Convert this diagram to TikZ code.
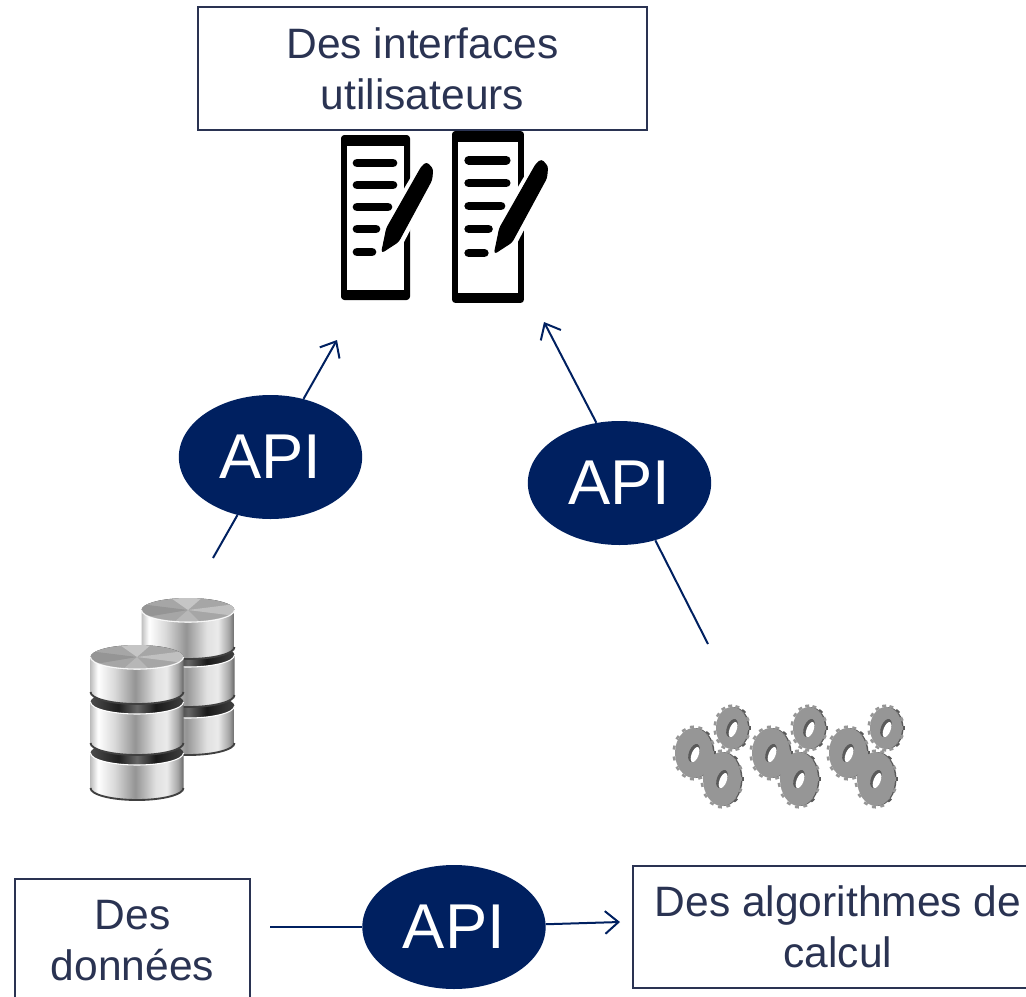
\documentclass[tikz,border=0pt]{standalone}
\usepackage{fontspec}
\setmainfont{Liberation Sans}
\usetikzlibrary{arrows.meta,shapes.geometric}
\definecolor{apiblue}{HTML}{002060}
\definecolor{textblue}{HTML}{2A3352}
\definecolor{gearface}{HTML}{969696}
\definecolor{geardark}{HTML}{5A5A5A}
\pgfdeclarehorizontalshading{metalbody}{100bp}{color(0bp)=(black!25); color(25bp)=(black!25); color(29bp)=(white); color(38bp)=(black!15); color(49bp)=(black!42); color(60bp)=(black!12); color(66bp)=(black!8); color(72bp)=(black!35); color(75bp)=(black!60); color(100bp)=(black!60)}
\pgfdeclarehorizontalshading{darklid}{100bp}{color(0bp)=(black!70); color(25bp)=(black!70); color(40bp)=(black!88); color(50bp)=(black!60); color(60bp)=(black!90); color(75bp)=(black!75); color(100bp)=(black!75)}
\tikzset{
  textbox/.style={draw=textblue, line width=1.1pt, text=textblue, align=center, inner sep=0pt, font=\fontsize{31.9}{38.3}\selectfont},
  apinode/.style={ellipse, fill=apiblue, text=white, minimum width=137.5pt, minimum height=93pt, inner sep=0pt, font=\fontsize{47.5}{50}\selectfont},
  link/.style={draw=apiblue, line width=1.5pt},
  linkarrow/.style={link, -{Straight Barb[length=10pt, width=17pt]}},
  pics/formicon/.style={code={
    \fill[black, rounded corners=2.5pt] (0,0) rectangle (69,165);
    \fill[white] (6,11) rectangle (63,155);
    \foreach \ypos/\xend in {28/52, 50/52, 72/47, 94/35, 117/31}
      \draw[black, line width=6.5pt, line cap=round] (16,\ypos) -- (\xend,\ypos);
    \draw[white, line join=round, line width=8pt] (44,117) -- (46,93) -- (82,32) -- (91,42) -- (57,107) -- cycle;
    \filldraw[black, line width=.8pt, line join=round, rounded corners=2pt] (40.7,117.5) -- (45.7,93.3) -- (80.7,31.7) -- (85.7,27.5) -- (91.7,34) -- (90.7,45) -- (57.3,106.7) -- cycle;
  }},
  pics/diskicon/.style={code={
    \shade[shading=darklid] (0,0) ellipse [x radius=46.5, y radius=12];
    \shade[shading=metalbody] (-46.5,0) -- (-46.5,#1) arc (180:0:46.5 and 12) -- (46.5,0) arc (0:180:46.5 and 12) -- cycle;
    \draw[white, line width=.8pt] (-46.5,0) arc (180:0:46.5 and 12);
    \draw[black!75, line width=1.4pt] (-46.5,#1) arc (180:0:46.5 and 12);
  }},
  pics/lidicon/.style={code={
    \fill[black!35] (0,0) ellipse [x radius=46.5, y radius=12];
    \begin{scope}
      \clip (0,0) ellipse [x radius=46.5, y radius=12];
      \fill[white, opacity=.35] (0,0) -- (-20,-14) -- (16,-14) -- cycle;
      \fill[white, opacity=.3] (0,0) -- (48,-6) -- (48,6) -- cycle;
      \fill[white, opacity=.2] (0,0) -- (-16,14) -- (14,14) -- cycle;
      \fill[black, opacity=.1] (0,0) -- (-48,-6) -- (-48,8) -- cycle;
    \end{scope}
    \draw[white, line width=.8pt, opacity=.8] (-46.5,0) arc (180:0:46.5 and 12);
  }},
  pics/gearicon/.style n args={2}{code={
    \fill[geardark] (1.5,0) ellipse [x radius=#1, y radius=#2];
    \fill[gearface] (0,0) ellipse [x radius=#1, y radius=#2];
    \foreach \ang in {0,24,...,336}
      \draw[gearface, line width=3pt] ({#1*cos(\ang)},{#2*sin(\ang)}) -- ({(#1+2.5)*cos(\ang)},{(#2+2.5)*sin(\ang)});
    \foreach \ang in {-48,0,48}
      \draw[geardark, line width=3pt] ({(#1+.5)*cos(\ang)},{(#2+.5)*sin(\ang)}) -- ({(#1+2.5)*cos(\ang)},{(#2+2.5)*sin(\ang)});
    \fill[geardark, rotate=-22] (0,0) ellipse [x radius=5, y radius=9.5];
    \fill[white, rotate=-22] (1.6,1) ellipse [x radius=3.5, y radius=8];
  }},
  pics/gearcluster/.style={code={
    \pic {gearicon={16}{21}};
    \pic at (-38,25) {gearicon={19}{25}};
    \pic at (-10,51) {gearicon={19}{27}};
  }}
}

\begin{document}
\begin{tikzpicture}[x=.75pt, y=-.75pt]
  \useasboundingbox (0,0) rectangle (1026,997);

  \node (ui) [textbox, minimum width=336.75pt, minimum height=92.25pt] at (422.5,68.5) {Des interfaces\\utilisateurs};
  \node (data) [textbox, minimum width=176.25pt, minimum height=93pt] at (132.5,941) {Des\\données};
  \node (algo) [textbox, minimum width=307.5pt, minimum height=91.5pt] at (838,927) {Des algorithmes de\\calcul};

  \node (apiA) [apinode] at (270.5,457) {API};
  \node (apiB) [apinode] at (619.5,483) {API};
  \node (apiC) [apinode] at (454,927) {API};

  % icons
  \pic (form1) at (341,135) {formicon};
  \pic (form2) [xscale=1.043, yscale=1.042] at (452,131) {formicon};

  \pic (back3) at (188,706) {diskicon={37}};
  \pic (back2) at (188,655) {diskicon={40}};
  \pic (back1) at (188,610) {diskicon={37}};
  \pic (backlid) at (188,610) {lidicon};
  \pic (front3) at (137,753) {diskicon={35}};
  \pic (front2) at (137,702) {diskicon={41}};
  \pic (front1) at (137,657) {diskicon={35}};
  \pic (frontlid) at (137,657) {lidicon};

  \pic (gears1) at (732,728) {gearcluster};
  \pic (gears2) at (809,728) {gearcluster};
  \pic (gears3) at (886,728) {gearcluster};

  % free ends of the connectors
  \coordinate (dbout) at (213,558);
  \coordinate (formA) at (337,340);
  \coordinate (calcout) at (708,644);
  \coordinate (formB) at (544,322);
  \coordinate (dataout) at (270,927);
  \coordinate (algoin) at (620,922);

  \draw [link] (dbout) -- (apiA);
  \draw [linkarrow] (apiA) -- (formA);
  \draw [link] (calcout) -- (apiB.-58);
  \draw [linkarrow] (apiB.111) -- (formB);
  \draw [link] (dataout) -- (apiC);
  \draw [linkarrow] (apiC) -- (algoin);
\end{tikzpicture}
\end{document}
